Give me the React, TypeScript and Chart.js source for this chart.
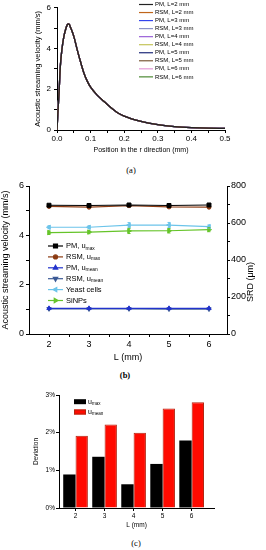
import React, { useEffect, useRef } from "react";
import { Chart, registerables } from "chart.js";
import { drawPoint } from "chart.js/helpers";

Chart.register(...registerables);

const FONT = "'Liberation Sans', Arial, sans-serif";

// ---------- (a) velocity profile ----------
const R_POSITION = [0, 0.003, 0.006, 0.01, 0.015, 0.02, 0.025, 0.03, 0.033, 0.037, 0.04, 0.05, 0.06, 0.07, 0.08, 0.09, 0.1, 0.12, 0.14, 0.16, 0.18, 0.2, 0.25, 0.3, 0.35, 0.4, 0.45, 0.5];
const STREAM_VELOCITY = [0, 0.95, 1.8, 3.15, 4.0, 4.55, 4.9, 5.15, 5.21, 5.17, 5.05, 4.6, 3.95, 3.35, 2.8, 2.4, 2.1, 1.7, 1.4, 1.1, 0.85, 0.68, 0.42, 0.26, 0.17, 0.12, 0.09, 0.08];
const A_SERIES = ["PM, L=2 mm", "RSM, L=2 mm", "PM, L=3 mm", "RSM, L=3 mm", "PM, L=4 mm", "RSM, L=4 mm", "PM, L=5 mm", "RSM, L=5 mm", "PM, L=6 mm", "RSM, L=6 mm"];
const A_COLORS = ["#222222", "#c0651a", "#3344ee", "#8c93c8", "#9a60d8", "#c4c45a", "#1e2a7a", "#7a5a3a", "#e49ad8", "#4c8a34"];
const A_X_TICKS = [0, 0.05, 0.1, 0.15, 0.2, 0.25, 0.3, 0.35, 0.4, 0.45, 0.5];
const A_Y_TICKS = [0, 1, 2, 3, 4, 5, 6];

// ---------- (b) velocities and SRD vs L ----------
const L_VALUES = [2, 3, 4, 5, 6];
const PM_UMAX = [5.22, 5.21, 5.23, 5.21, 5.23];
const RSM_UMAX = [5.17, 5.14, 5.2, 5.15, 5.14];
const PM_UMEAN = [1.04, 1.04, 1.04, 1.04, 1.04];
const RSM_UMEAN = [1.02, 1.017, 1.019, 1.012, 1.011];
const YEAST_SRD = [577, 577, 588, 589, 580];
const YEAST_ERR = [8, 8, 14, 14, 10];
const SINP_SRD = [548, 551, 557, 558, 564];
const SINP_ERR = [10, 9, 14, 12, 11];
const B_X_TICKS = [2, 2.5, 3, 3.5, 4, 4.5, 5, 5.5, 6];
const B_Y_TICKS = [0, 1, 2, 3, 4, 5, 6];
const B_Y1_TICKS = [0, 100, 200, 300, 400, 500, 600, 700, 800];

// ---------- (c) deviations ----------
const UMAX_DEV = [0.89, 1.36, 0.63, 1.17, 1.79];
const UMEAN_DEV = [1.92, 2.22, 2.0, 2.64, 2.81];
const C_Y_TICKS = [0, 1, 2, 3];

const axisLook = {
  border: { display: true, color: "#000", width: 1 },
  grid: { display: true, drawOnChartArea: false, drawTicks: true, tickLength: 3, color: "#000", tickColor: "#000", tickWidth: 1 },
};

const setTicks = (list: number[]) => (s: any) => {
  s.ticks = list.map((v) => ({ value: v }));
};

function drawSubLabel(ctx: CanvasRenderingContext2D, x: number, y: number, main: string, sub: string, size: number) {
  ctx.fillStyle = "#000";
  ctx.textAlign = "left";
  ctx.textBaseline = "middle";
  ctx.font = `${size}px ${FONT}`;
  ctx.fillText(main, x, y);
  if (sub) {
    const w = ctx.measureText(main).width;
    ctx.font = `${size * 0.65}px ${FONT}`;
    ctx.fillText(sub, x + w, y + size * 0.3);
  }
}

const legendA = {
  id: "legendA",
  afterDraw(chart: any) {
    const ctx = chart.ctx;
    ctx.save();
    A_SERIES.forEach((label, i) => {
      const y = 4.5 + i * 8.04;
      ctx.strokeStyle = A_COLORS[i];
      ctx.lineWidth = 1.2;
      ctx.beginPath();
      ctx.moveTo(139, y);
      ctx.lineTo(153, y);
      ctx.stroke();
      drawSubLabel(ctx, 155, y, label, "", 6);
    });
    ctx.restore();
  },
};

const errorBars = {
  id: "errorBars",
  afterDatasetsDraw(chart: any) {
    const ctx = chart.ctx;
    ctx.save();
    chart.data.datasets.forEach((ds: any, i: number) => {
      if (!ds.errors) return;
      const meta = chart.getDatasetMeta(i);
      const scale = chart.scales[ds.yAxisID || "y"];
      ctx.strokeStyle = ds.borderColor;
      ctx.lineWidth = 1;
      meta.data.forEach((el: any, j: number) => {
        const v = ds.data[j].y;
        const e = ds.errors[j];
        const yt = scale.getPixelForValue(v + e);
        const yb = scale.getPixelForValue(v - e);
        ctx.beginPath();
        ctx.moveTo(el.x, yt);
        ctx.lineTo(el.x, yb);
        ctx.moveTo(el.x - 1.5, yt);
        ctx.lineTo(el.x + 1.5, yt);
        ctx.moveTo(el.x - 1.5, yb);
        ctx.lineTo(el.x + 1.5, yb);
        ctx.stroke();
      });
    });
    ctx.restore();
  },
};

const legendB = {
  id: "legendB",
  afterDraw(chart: any) {
    const ctx = chart.ctx;
    ctx.save();
    chart.data.datasets.forEach((ds: any, i: number) => {
      const y = 68 + i * 10.9;
      ctx.strokeStyle = ds.borderColor;
      ctx.fillStyle = ds.borderColor;
      ctx.lineWidth = 1.2;
      ctx.beginPath();
      ctx.moveTo(48, y);
      ctx.lineTo(63, y);
      ctx.stroke();
      drawPoint(ctx, { pointStyle: ds.pointStyle, rotation: ds.pointRotation || 0, radius: ds.pointRadius, borderWidth: 1 }, 55.5, y);
      drawSubLabel(ctx, 66, y, ds.legendMain, ds.legendSub, 7.5);
    });
    // right axis title, reading bottom-to-top
    ctx.translate(251, 104);
    ctx.rotate(-Math.PI / 2);
    ctx.font = `9px ${FONT}`;
    ctx.fillStyle = "#000";
    ctx.textAlign = "center";
    ctx.textBaseline = "middle";
    ctx.fillText("SRD (\u03bcm)", 0, 0);
    ctx.restore();
  },
};

const legendC = {
  id: "legendC",
  afterDraw(chart: any) {
    const ctx = chart.ctx;
    ctx.save();
    chart.data.datasets.forEach((ds: any, i: number) => {
      const y = 15.7 + i * 10.3;
      ctx.fillStyle = ds.backgroundColor;
      ctx.fillRect(74, y - 2.5, 12, 5);
      if (ds.borderWidth) {
        ctx.strokeStyle = ds.borderColor;
        ctx.lineWidth = 1;
        ctx.strokeRect(74.5, y - 2, 11, 4);
      }
      drawSubLabel(ctx, 88, y, ds.legendMain, ds.legendSub, 7);
    });
    ctx.restore();
  },
};

function useChart(ref: React.RefObject<HTMLCanvasElement | null>, make: () => any) {
  useEffect(() => {
    if (!ref.current) return;
    const chart = new Chart(ref.current, make());
    return () => chart.destroy();
  }, []);
}

export default function App() {
  const aRef = useRef<HTMLCanvasElement>(null);
  const bRef = useRef<HTMLCanvasElement>(null);
  const cRef = useRef<HTMLCanvasElement>(null);

  useChart(aRef, () => ({
    type: "line",
    data: {
      datasets: A_SERIES.map((label, i) => ({
        label,
        data: R_POSITION.map((r, j) => ({ x: r, y: STREAM_VELOCITY[j] })),
        borderColor: A_COLORS[i],
        backgroundColor: A_COLORS[i],
        borderWidth: 1.3,
        pointRadius: 0,
        cubicInterpolationMode: "monotone",
        fill: false,
      })),
    },
    options: {
      animation: false,
      responsive: false,
      devicePixelRatio: 1,
      layout: { padding: { left: 0, top: 6, right: 41, bottom: 0 } },
      plugins: { legend: { display: false }, tooltip: { enabled: false } },
      scales: {
        x: {
          type: "linear", min: 0, max: 0.5, bounds: "data",
          afterBuildTicks: setTicks(A_X_TICKS),
          afterFit: (s: any) => { s.height = 32; },
          ticks: { autoSkip: false, maxRotation: 0, padding: 1, color: "#000", font: { size: 8, family: FONT },
            callback: (v: number, i: number) => (i % 2 === 0 ? Number(v).toFixed(1) : "") },
          title: { display: true, text: "Position in the r direction (mm)", color: "#000", font: { size: 7, family: FONT }, padding: { top: 0, bottom: 7.8 } },
          ...axisLook,
        },
        y: {
          type: "linear", min: 0, max: 6, bounds: "data",
          afterBuildTicks: setTicks(A_Y_TICKS),
          afterFit: (s: any) => { s.width = 57; },
          ticks: { autoSkip: false, padding: 3, color: "#000", font: { size: 8, family: FONT },
            callback: (v: number) => (v % 2 === 0 ? String(v) : "") },
          title: { display: true, text: "Acoustic streaming velocity (mm/s)", color: "#000", font: { size: 7.5, family: FONT }, padding: { top: 33, bottom: 0 } },
          ...axisLook,
        },
      },
    },
    plugins: [legendA],
  }));

  useChart(bRef, () => {
    const pts = (arr: number[]) => L_VALUES.map((x, i) => ({ x, y: arr[i] }));
    const base = { borderWidth: 1.2, fill: false, tension: 0, pointBorderWidth: 1 };
    return {
      type: "line",
      data: {
        datasets: [
          { ...base, label: "PM, umax", legendMain: "PM, u", legendSub: "max", data: pts(PM_UMAX), borderColor: "#000000", backgroundColor: "#000000", pointStyle: "rect", pointRadius: 2.8, yAxisID: "y" },
          { ...base, label: "RSM, umax", legendMain: "RSM, u", legendSub: "max", data: pts(RSM_UMAX), borderColor: "#8c3b12", backgroundColor: "#8c3b12", pointStyle: "circle", pointRadius: 2, yAxisID: "y" },
          { ...base, label: "PM, umean", legendMain: "PM, u", legendSub: "mean", data: pts(PM_UMEAN), borderColor: "#2233cc", backgroundColor: "#2233cc", pointStyle: "triangle", pointRadius: 2.5, yAxisID: "y" },
          { ...base, label: "RSM, umean", legendMain: "RSM, u", legendSub: "mean", data: pts(RSM_UMEAN), borderColor: "#3c5a96", backgroundColor: "#3c5a96", pointStyle: "triangle", pointRotation: 180, pointRadius: 2.5, yAxisID: "y" },
          { ...base, label: "Yeast cells", legendMain: "Yeast cells", legendSub: "", data: pts(YEAST_SRD), errors: YEAST_ERR, borderColor: "#6cc4ea", backgroundColor: "#6cc4ea", pointStyle: "triangle", pointRotation: 270, pointRadius: 2.5, yAxisID: "y1" },
          { ...base, label: "SiNPs", legendMain: "SiNPs", legendSub: "", data: pts(SINP_SRD), errors: SINP_ERR, borderColor: "#66c42a", backgroundColor: "#66c42a", pointStyle: "triangle", pointRotation: 90, pointRadius: 2.5, yAxisID: "y1" },
        ],
      },
      options: {
        animation: false,
        responsive: false,
        devicePixelRatio: 1,
        layout: { padding: { left: 0, top: 8, right: 0, bottom: 0 } },
        plugins: { legend: { display: false }, tooltip: { enabled: false } },
        scales: {
          x: {
            type: "linear", min: 1.5, max: 6.45, bounds: "data",
            afterBuildTicks: setTicks(B_X_TICKS),
            afterFit: (s: any) => { s.height = 34; },
            ticks: { autoSkip: false, maxRotation: 0, padding: 2, color: "#000", font: { size: 9, family: FONT },
              callback: (v: number) => (Number.isInteger(v) ? String(v) : "") },
            title: { display: true, text: "L (mm)", color: "#000", font: { size: 9, family: FONT }, padding: { top: 0, bottom: 4.6 } },
            ...axisLook,
          },
          y: {
            type: "linear", position: "left", min: 0, max: 6, bounds: "data",
            afterBuildTicks: setTicks(B_Y_TICKS),
            afterFit: (s: any) => { s.width = 29; },
            ticks: { autoSkip: false, padding: 2, color: "#000", font: { size: 9, family: FONT },
              callback: (v: number) => (v % 2 === 0 ? String(v) : "") },
            title: { display: true, text: "Acoustic streaming velocity (mm/s)", color: "#000", font: { size: 9, family: FONT }, padding: { top: 0, bottom: 0 } },
            ...axisLook,
          },
          y1: {
            type: "linear", position: "right", min: 0, max: 800, bounds: "data",
            afterBuildTicks: setTicks(B_Y1_TICKS),
            afterFit: (s: any) => { s.width = 39; },
            ticks: { autoSkip: false, padding: 1, color: "#000", font: { size: 9, family: FONT },
              callback: (v: number) => (v % 200 === 0 ? String(v) : "") },
            ...axisLook,
          },
        },
      },
      plugins: [errorBars, legendB],
    };
  });

  useChart(cRef, () => ({
    type: "bar",
    data: {
      datasets: [
        { label: "umax", legendMain: "u", legendSub: "max", data: L_VALUES.map((x, i) => ({ x, y: UMAX_DEV[i] })), backgroundColor: "#000000", borderWidth: 0 },
        { label: "umean", legendMain: "u", legendSub: "mean", data: L_VALUES.map((x, i) => ({ x, y: UMEAN_DEV[i] })), backgroundColor: "#ff0a00", borderColor: "#b3230f", borderWidth: 1 },
      ],
    },
    options: {
      animation: false,
      responsive: false,
      devicePixelRatio: 1,
      datasets: { bar: { categoryPercentage: 0.85, barPercentage: 1 } },
      layout: { padding: { left: 0, top: 9, right: 52, bottom: 0 } },
      plugins: { legend: { display: false }, tooltip: { enabled: false } },
      scales: {
        x: {
          type: "linear", min: 1.43, max: 6.77, bounds: "data", offset: false,
          afterBuildTicks: setTicks(L_VALUES),
          afterFit: (s: any) => { s.height = 26; },
          ticks: { autoSkip: false, maxRotation: 0, padding: 1, color: "#000", font: { size: 6.5, family: FONT }, callback: (v: number) => String(v) },
          title: { display: true, text: "L (mm)", color: "#000", font: { size: 6.5, family: FONT }, padding: { top: 0, bottom: 4.4 } },
          border: axisLook.border,
          grid: { ...axisLook.grid, offset: false },
        },
        y: {
          type: "linear", min: 0, max: 3, bounds: "data",
          afterBuildTicks: setTicks(C_Y_TICKS),
          afterFit: (s: any) => { s.width = 59; },
          ticks: { autoSkip: false, padding: 1, color: "#000", font: { size: 6.5, family: FONT }, callback: (v: number) => `${v}%` },
          title: { display: true, text: "Deviation", color: "#000", font: { size: 6.5, family: FONT }, padding: { top: 32, bottom: 0 } },
          ...axisLook,
        },
      },
    },
    plugins: [legendC],
  }));

  const label = (text: string, cx: number, cy: number, bold = false) => (
    <div style={{ position: "absolute", left: cx - 20, top: cy - 6, width: 40, height: 12, lineHeight: "12px", textAlign: "center", fontFamily: "'Liberation Serif', serif", fontSize: 8.5, fontWeight: bold ? 700 : 400, color: "#000" }}>{text}</div>
  );

  return (
    <div style={{ position: "absolute", left: 0, top: 0, width: 266, height: 550, background: "#fff", overflow: "hidden" }}>
      <canvas ref={aRef} width={266} height={162} style={{ position: "absolute", left: 0, top: 0, width: 266, height: 162 }} />
      {label("(a)", 131, 170)}
      <canvas ref={bRef} width={266} height={190} style={{ position: "absolute", left: 0, top: 178, width: 266, height: 190 }} />
      {label("(b)", 125, 375, true)}
      <canvas ref={cRef} width={266} height={148} style={{ position: "absolute", left: 0, top: 386, width: 266, height: 148 }} />
      {label("(c)", 136, 543)}
    </div>
  );
}
